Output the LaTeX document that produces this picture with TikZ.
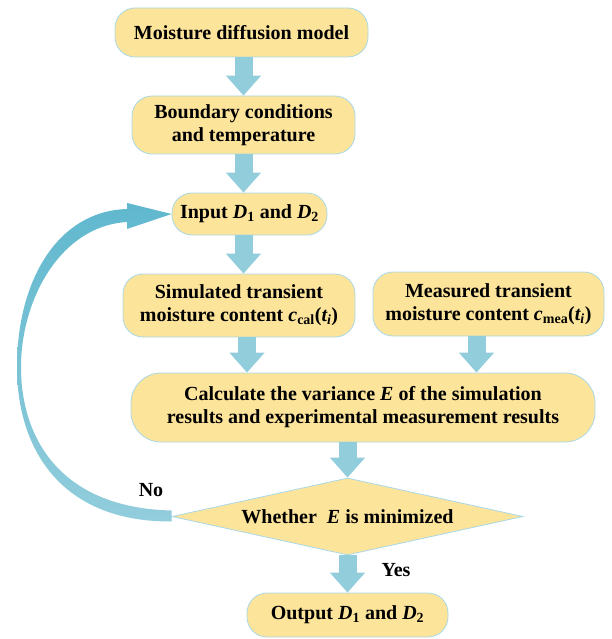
\documentclass[tikz,border=0pt]{standalone}
\usepackage{fontspec}
\setmainfont{Liberation Serif}
\usepackage{xcolor}
\usepackage{tikz}
\usetikzlibrary{arrows.meta,shapes.geometric,calc}

\definecolor{boxfill}{HTML}{FDE49B}
\definecolor{boxline}{HTML}{A9D8E6}
\definecolor{arrowfill}{HTML}{92CDDC}
\definecolor{loopdark}{HTML}{60B8CE}

\tikzset{
    box/.style={draw=boxline, fill=boxfill, line width=0.8pt, rounded corners=20pt,
        align=center, inner sep=2pt, font=\fontsize{20}{23}\selectfont\bfseries},
    flow/.style={draw=arrowfill, line width=18pt, -{Triangle[length=20pt,width=34pt]}},
    lbl/.style={font=\fontsize{20}{23}\selectfont\bfseries}
}

\begin{document}
\begin{tikzpicture}[x=1pt,y=-1pt]
        \useasboundingbox (0,0) rectangle (611,639);

        \node[box, minimum width=253pt, minimum height=49pt] (m1) at (241.5,32.5) {Moisture diffusion model};
        \node[box, minimum width=223pt, minimum height=58pt] (m2) at (243.5,125) {Boundary conditions\\and temperature};
        \node[box, minimum width=155pt, minimum height=42pt] (m3) at (249.5,214) {Input \textit{D}\textsubscript{1} and \textit{D}\textsubscript{2}};
        \node[box, minimum width=232pt, minimum height=63pt] (m4) at (239,305.5) {Simulated transient\\moisture content \textit{c}\textsubscript{cal}(\textit{t\textsubscript{i}})};
        \node[box, minimum width=231pt, minimum height=64pt] (m5) at (488.5,304) {Measured transient\\moisture content \textit{c}\textsubscript{mea}(\textit{t\textsubscript{i}})};
        \node[box, minimum width=464pt, minimum height=69pt, rounded corners=30pt] (m6) at (363,407.5) {Calculate the variance \textit{E} of the simulation\\results and experimental measurement results};
        \node[draw=boxline, fill=boxfill, line width=0.8pt, shape=diamond, aspect=4.56, inner sep=0pt,
            minimum width=351pt, minimum height=77pt, lbl] (dia) at (347.5,516.5) {Whether\ \ \textit{E} is minimized};
        \node[box, minimum width=201pt, minimum height=44pt] (m7) at (347.5,615) {Output \textit{D}\textsubscript{1} and \textit{D}\textsubscript{2}};

        \node[lbl] (no) at (151,490) {No};
        \node[lbl] (yes) at (396,570) {Yes};

        \draw[flow] (m1.south -| m2) -- (m2.north);
        \draw[flow] (m2.south) -- (m2.south |- m3.north);
        \draw[flow] (m3.south -| m2) -- (m2 |- m4.north);
        \draw[flow] ([xshift=8pt]m4.south) -- ([xshift=8pt]m4.south |- m6.north);
        \draw[flow] ([xshift=-12pt]m5.south) -- ([xshift=-12pt]m5.south |- m6.north);
        \draw[flow] (m6.south -| dia) -- (dia.north);
        \draw[flow] (dia.south) -- (m7.north);

        % loop back from the decision
        \shade[top color=loopdark, bottom color=arrowfill]
            ($(dia.west)+(0,-6)$) .. controls (62,508) and (21,440) .. (21,367)
            .. controls (21,300) and (60,226) .. (127,222) -- (127,229) -- (m3.west)
            -- (127,203) -- (127,209) .. controls (58,211) and (17,280) .. (17,367)
            .. controls (17,448) and (60,522) .. ($(dia.west)+(0,5)$) -- cycle;
    \end{tikzpicture}
\end{document}
